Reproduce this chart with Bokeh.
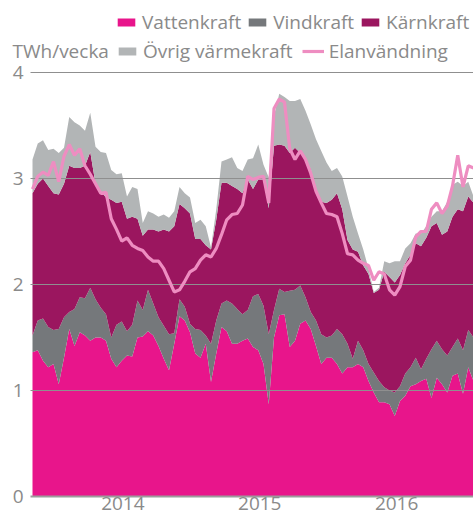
import pandas as pd
from bokeh.plotting import figure
from bokeh.core.properties import value
from bokeh.models import (Range1d, FixedTicker, Legend, LegendItem, Label,
                          ColumnDataSource, DatetimeTickFormatter)
from bokeh.embed import file_html
from bokeh.resources import INLINE

# ---- data (TWh per week, read every second week) ----
first_week = "2013-05-05"
step = "14D"

vattenkraft = [
    1.36, 1.38, 1.28, 1.22, 1.25, 1.06, 1.31, 1.58, 1.42, 1.55,
    1.52, 1.47, 1.50, 1.50, 1.47, 1.30, 1.22, 1.28, 1.33, 1.32,
    1.50, 1.51, 1.56, 1.52, 1.42, 1.30, 1.19, 1.44, 1.70, 1.66,
    1.55, 1.35, 1.31, 1.44, 1.08, 1.35, 1.60, 1.56, 1.44, 1.44,
    1.47, 1.49, 1.41, 1.38, 1.25, 0.87, 1.50, 1.71, 1.72, 1.41,
    1.47, 1.63, 1.66, 1.58, 1.42, 1.25, 1.31, 1.31, 1.25, 1.16,
    1.22, 1.22, 1.25, 1.22, 1.09, 0.98, 0.89, 0.89, 0.87, 0.76,
    0.90, 0.95, 1.04, 1.06, 1.09, 1.11, 0.93, 1.12, 1.06, 0.98,
    1.14, 1.16, 0.97, 1.22, 1.09]

vindkraft = [
    0.16, 0.28, 0.40, 0.38, 0.32, 0.52, 0.38, 0.16, 0.35, 0.33,
    0.35, 0.50, 0.36, 0.28, 0.25, 0.20, 0.40, 0.37, 0.23, 0.30,
    0.35, 0.25, 0.39, 0.30, 0.27, 0.31, 0.34, 0.10, 0.16, 0.13,
    0.08, 0.23, 0.26, 0.08, 0.36, 0.31, 0.22, 0.29, 0.38, 0.33,
    0.25, 0.27, 0.48, 0.53, 0.55, 0.66, 0.26, 0.25, 0.21, 0.53,
    0.48, 0.36, 0.22, 0.16, 0.24, 0.28, 0.19, 0.21, 0.33, 0.37,
    0.22, 0.08, 0.22, 0.16, 0.16, 0.19, 0.20, 0.14, 0.13, 0.22,
    0.14, 0.21, 0.18, 0.25, 0.11, 0.19, 0.46, 0.35, 0.33, 0.35,
    0.27, 0.33, 0.41, 0.35, 0.41]

karnkraft = [
    1.34, 1.29, 1.32, 1.33, 1.29, 1.27, 1.26, 1.38, 1.33, 1.22,
    1.25, 1.28, 1.09, 1.10, 1.10, 1.30, 1.15, 1.13, 1.06, 1.02,
    0.77, 0.70, 0.57, 0.70, 0.81, 0.91, 0.97, 1.01, 0.90, 0.93,
    1.04, 0.85, 0.86, 0.85, 0.89, 0.95, 1.14, 1.11, 1.11, 1.13,
    1.14, 1.23, 1.01, 1.08, 1.19, 1.19, 1.55, 1.36, 1.38, 1.30,
    1.34, 1.25, 1.30, 1.35, 1.24, 1.25, 1.27, 1.28, 1.28, 1.18,
    0.98, 1.03, 0.84, 0.80, 0.85, 0.75, 0.86, 1.09, 1.07, 1.04,
    1.05, 1.04, 1.06, 1.08, 1.16, 1.14, 1.16, 1.11, 1.08, 1.17,
    1.23, 1.22, 1.31, 1.26, 1.27]

ovrig_varmekraft = [
    0.32, 0.38, 0.36, 0.34, 0.42, 0.39, 0.34, 0.46, 0.43, 0.40,
    0.33, 0.37, 0.35, 0.37, 0.42, 0.28, 0.27, 0.27, 0.21, 0.28,
    0.28, 0.12, 0.17, 0.15, 0.14, 0.14, 0.13, 0.14, 0.16, 0.14,
    0.15, 0.15, 0.18, 0.18, 0.02, 0.10, 0.20, 0.22, 0.27, 0.20,
    0.21, 0.19, 0.29, 0.33, 0.14, 0.29, 0.28, 0.48, 0.46, 0.49,
    0.44, 0.51, 0.46, 0.42, 0.47, 0.48, 0.38, 0.27, 0.24, 0.31,
    0.41, 0.31, 0.17, 0.15, 0.05, 0.01, 0.02, 0.10, 0.13, 0.20,
    0.13, 0.14, 0.11, 0.09, 0.12, 0.11, 0.09, 0.11, 0.22, 0.28,
    0.30, 0.26, 0.24, 0.14, 0.06]

elanvandning = [
    2.90, 3.02, 3.06, 3.03, 3.16, 2.97, 3.21, 3.32, 3.22, 3.28,
    3.12, 3.04, 2.95, 2.86, 2.87, 2.62, 2.52, 2.41, 2.44, 2.37,
    2.34, 2.32, 2.26, 2.22, 2.22, 2.15, 2.04, 1.93, 1.95, 2.03,
    2.12, 2.15, 2.23, 2.28, 2.26, 2.34, 2.47, 2.61, 2.66, 2.67,
    2.75, 3.02, 2.99, 3.01, 3.02, 2.77, 3.66, 3.75, 3.72, 3.28,
    3.18, 3.26, 3.18, 3.05, 2.88, 2.77, 2.67, 2.66, 2.64, 2.48,
    2.29, 2.28, 2.23, 2.20, 2.18, 2.04, 2.12, 2.10, 1.95, 1.90,
    1.98, 2.17, 2.23, 2.45, 2.50, 2.50, 2.71, 2.77, 2.67, 2.74,
    2.93, 3.22, 2.92, 3.12, 3.10]

year_ticks = ["2014-01-01", "2015-01-01", "2016-01-01"]
y_ticks = [0, 1, 2, 3, 4]
y_tick_labels = ["0", "1", "2", "3", "4"]
unit_label = "TWh/vecka"
series_names = ["Vattenkraft", "Vindkraft", "Kärnkraft", "Övrig värmekraft"]
line_name = "Elanvändning"

colors = ["#e8158b", "#75787b", "#9b165f", "#b2b5b6"]
line_color = "#ee8dc1"
text_color = "#8a8a8a"
grid_color = "#8f8f8f"
FONT = "Open Sans"

# ---- layout geometry (pixels) ----
W, H = 473, 522
PLOT_LEFT = 32          # where the data start
FRAME_BOTTOM = 508      # frame bottom (canvas px); zero line sits at 496
ZERO_Y = 496
PX_PER_UNIT = 106.0

dates = pd.date_range(first_week, periods=len(vattenkraft), freq=step)
px = (dates[-1] - dates[0]) / (W - PLOT_LEFT)          # time per pixel
x_start = dates[0] - PLOT_LEFT * px
label_x = x_start + 23 * px
grid_x0 = x_start + 30 * px
y_start = -(FRAME_BOTTOM - ZERO_Y) / PX_PER_UNIT
y_end = ZERO_Y / PX_PER_UNIT

src = ColumnDataSource(dict(date=dates, vatten=vattenkraft, vind=vindkraft,
                            karn=karnkraft, ovrig=ovrig_varmekraft,
                            el=elanvandning))

p = figure(width=W, height=H, x_axis_type="datetime", y_axis_location=None,
           output_backend="svg", toolbar_location=None,
           min_border_left=0, min_border_right=0, min_border_top=0,
           min_border_bottom=H - FRAME_BOTTOM)
p.x_range = Range1d(x_start, dates[-1])
p.y_range = Range1d(y_start, y_end)
p.outline_line_color = None
p.background_fill_color = "white"
p.xgrid.visible = False
p.ygrid.visible = False

areas = p.varea_stack(["vatten", "vind", "karn", "ovrig"], x="date",
                      color=colors, source=src)

# horizontal grid lines (zero line heavier), drawn over the areas
grid_src = ColumnDataSource(dict(x0=[grid_x0] * len(y_ticks),
                                 x1=[dates[-1]] * len(y_ticks),
                                 y=y_ticks,
                                 w=[2 if t == 0 else 1 for t in y_ticks],
                                 c=["#9c9c9c" if t == 0 else grid_color for t in y_ticks]))
p.segment(x0="x0", x1="x1", y0="y", y1="y", line_width="w", line_color="c",
          source=grid_src)

ln = p.line("date", "el", source=src, line_color=line_color, line_width=3.2)

# y tick labels
p.text(x=[label_x] * len(y_ticks), y=y_ticks, text=y_tick_labels,
       text_align="right", text_baseline="middle", text_font=value(FONT),
       text_font_size="19px", text_color=text_color)

# x axis (labels only)
p.xaxis.ticker = FixedTicker(ticks=[pd.Timestamp(t).timestamp() * 1000 for t in year_ticks])
p.xaxis.formatter = DatetimeTickFormatter(years="%Y", months="%Y", days="%Y",
                                          hours="%Y", minutes="%Y")
p.xaxis.major_label_text_font = FONT
p.xaxis.major_label_text_font_size = "19px"
p.xaxis.major_label_text_color = text_color
p.xaxis.major_tick_line_color = None
p.xaxis.minor_tick_line_color = None
p.xaxis.major_tick_out = 0
p.xaxis.major_tick_in = 0
p.xaxis.axis_line_color = None
p.xaxis.major_label_standoff = -12

def make_legend(items, loc, spacing):
    return Legend(items=items, orientation="horizontal", location=loc,
                  label_text_font=FONT, label_text_font_size="19px",
                  label_text_color=text_color, glyph_width=22, glyph_height=10,
                  label_standoff=5, spacing=spacing, padding=0, margin=0,
                  label_height=20, border_line_color=None,
                  background_fill_alpha=0)

leg1 = make_legend([LegendItem(label=series_names[i], renderers=[areas[i]])
                    for i in range(3)], (115, FRAME_BOTTOM - 35), 5)
leg2 = make_legend([LegendItem(label=series_names[3], renderers=[areas[3]]),
                    LegendItem(label=line_name, renderers=[ln])],
                   (116, FRAME_BOTTOM - 64), 9)
p.add_layout(leg1)
p.add_layout(leg2)

p.add_layout(Label(x=12, y=FRAME_BOTTOM - 50, x_units="screen", y_units="screen",
                   text=unit_label, text_font=FONT, text_font_size="19px",
                   text_color=text_color, text_baseline="middle"))

open("out.html", "w").write(file_html(p, INLINE))
